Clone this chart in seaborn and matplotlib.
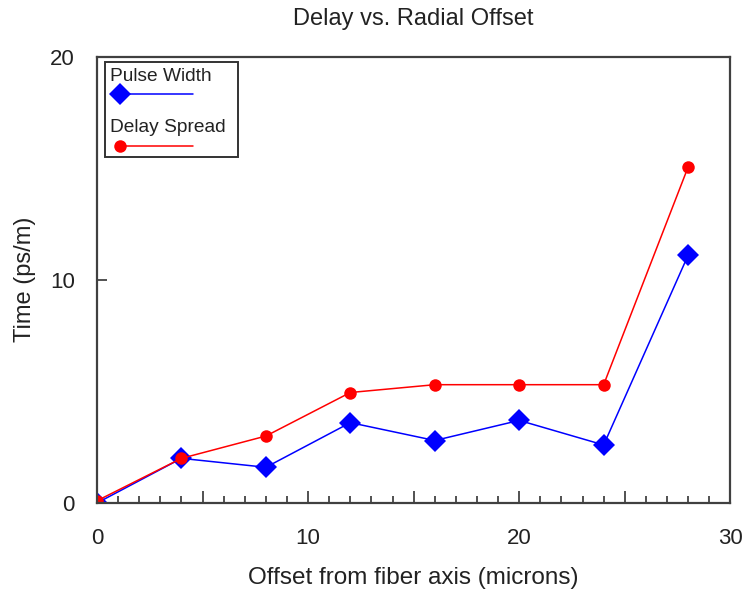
import pandas as pd
import matplotlib
matplotlib.use("Agg")
import matplotlib.pyplot as plt
from matplotlib.ticker import MultipleLocator, FuncFormatter
from matplotlib.patches import Rectangle
from matplotlib.lines import Line2D
import seaborn as sns

# Data
offset = [0, 4, 8, 12, 16, 20, 24, 28]
pulse_width = [0.0, 2.0, 1.6, 3.6, 2.8, 3.7, 2.6, 11.1]
delay_spread = [0.1, 2.0, 3.0, 4.95, 5.3, 5.3, 5.3, 15.05]
series_names = ["Pulse Width", "Delay Spread"]
series_colors = ["#0000FF", "#FF0000"]
series_markers = ["D", "o"]

df = pd.DataFrame({
    "offset": offset * 2,
    "time": pulse_width + delay_spread,
    "series": [series_names[0]] * len(offset) + [series_names[1]] * len(offset),
})

sns.set_style("white")
plt.rcParams["font.family"] = ["Liberation Sans", "DejaVu Sans"]
text_color = "#222222"

fig = plt.figure(figsize=(7.46, 5.89), dpi=100)
ax = fig.add_axes([0.130, 0.146, 0.849, 0.758])

sns.lineplot(data=df, x="offset", y="time", hue="series", style="series",
             hue_order=series_names, style_order=series_names,
             palette=dict(zip(series_names, series_colors)),
             markers=dict(zip(series_names, series_markers)),
             dashes=False, linewidth=1.1, markeredgewidth=0,
             legend=False, ax=ax)
# marker sizes differ per series
for line, ms in zip(ax.get_lines(), [11, 9]):
    line.set_markersize(ms)

ax.set_xlim(0, 30)
ax.set_ylim(0, 20)
ax.xaxis.set_major_locator(MultipleLocator(5))
ax.xaxis.set_minor_locator(MultipleLocator(1))
ax.xaxis.set_major_formatter(FuncFormatter(lambda v, p: f"{v:.0f}" if v % 10 == 0 else ""))
ax.yaxis.set_major_locator(MultipleLocator(10))
ax.tick_params(axis="x", which="major", direction="in", length=9, width=1.2,
               colors="#333333", labelcolor=text_color, labelsize=16, pad=18,
               bottom=True, top=False)
ax.tick_params(axis="x", which="minor", direction="in", length=5, width=1.2,
               colors="#333333", bottom=True, top=False)
ax.tick_params(axis="y", which="major", direction="in", length=7, width=1.2,
               colors="#333333", labelcolor=text_color, labelsize=16, pad=16,
               left=True, right=False)

for side in ["left", "bottom", "top", "right"]:
    ax.spines[side].set_color("#404040")
    ax.spines[side].set_linewidth(1.6)
    ax.spines[side].set_visible(True)

ax.set_xlabel("Offset from fiber axis (microns)", fontsize=17.5, color=text_color, labelpad=13)
ax.set_ylabel("Time (ps/m)", fontsize=17, color=text_color, labelpad=10)
ax.set_title("Delay vs. Radial Offset", fontsize=17, color=text_color, pad=23)

# legend: label above a line sample, drawn in a box at upper left
ax.add_patch(Rectangle((0.0126, 0.775), 0.2100, 0.213, transform=ax.transAxes,
                       fill=False, edgecolor="#333333", linewidth=1.4, zorder=5))
label_y = [0.955, 0.840]
line_y = [0.915, 0.800]
for name, color, marker, ms, ty, ly in zip(series_names, series_colors, series_markers,
                                           [11, 9], label_y, line_y):
    ax.text(0.021, ty, name, transform=ax.transAxes, fontsize=13.8,
            color=text_color, va="center", ha="left", zorder=6)
    ax.add_line(Line2D([0.030, 0.152], [ly, ly], transform=ax.transAxes,
                       color=color, linewidth=1.1, zorder=6))
    ax.add_line(Line2D([0.036], [ly], transform=ax.transAxes, color=color,
                       marker=marker, markersize=ms, markeredgewidth=0, zorder=7))

fig.savefig("out.png", dpi=100)
